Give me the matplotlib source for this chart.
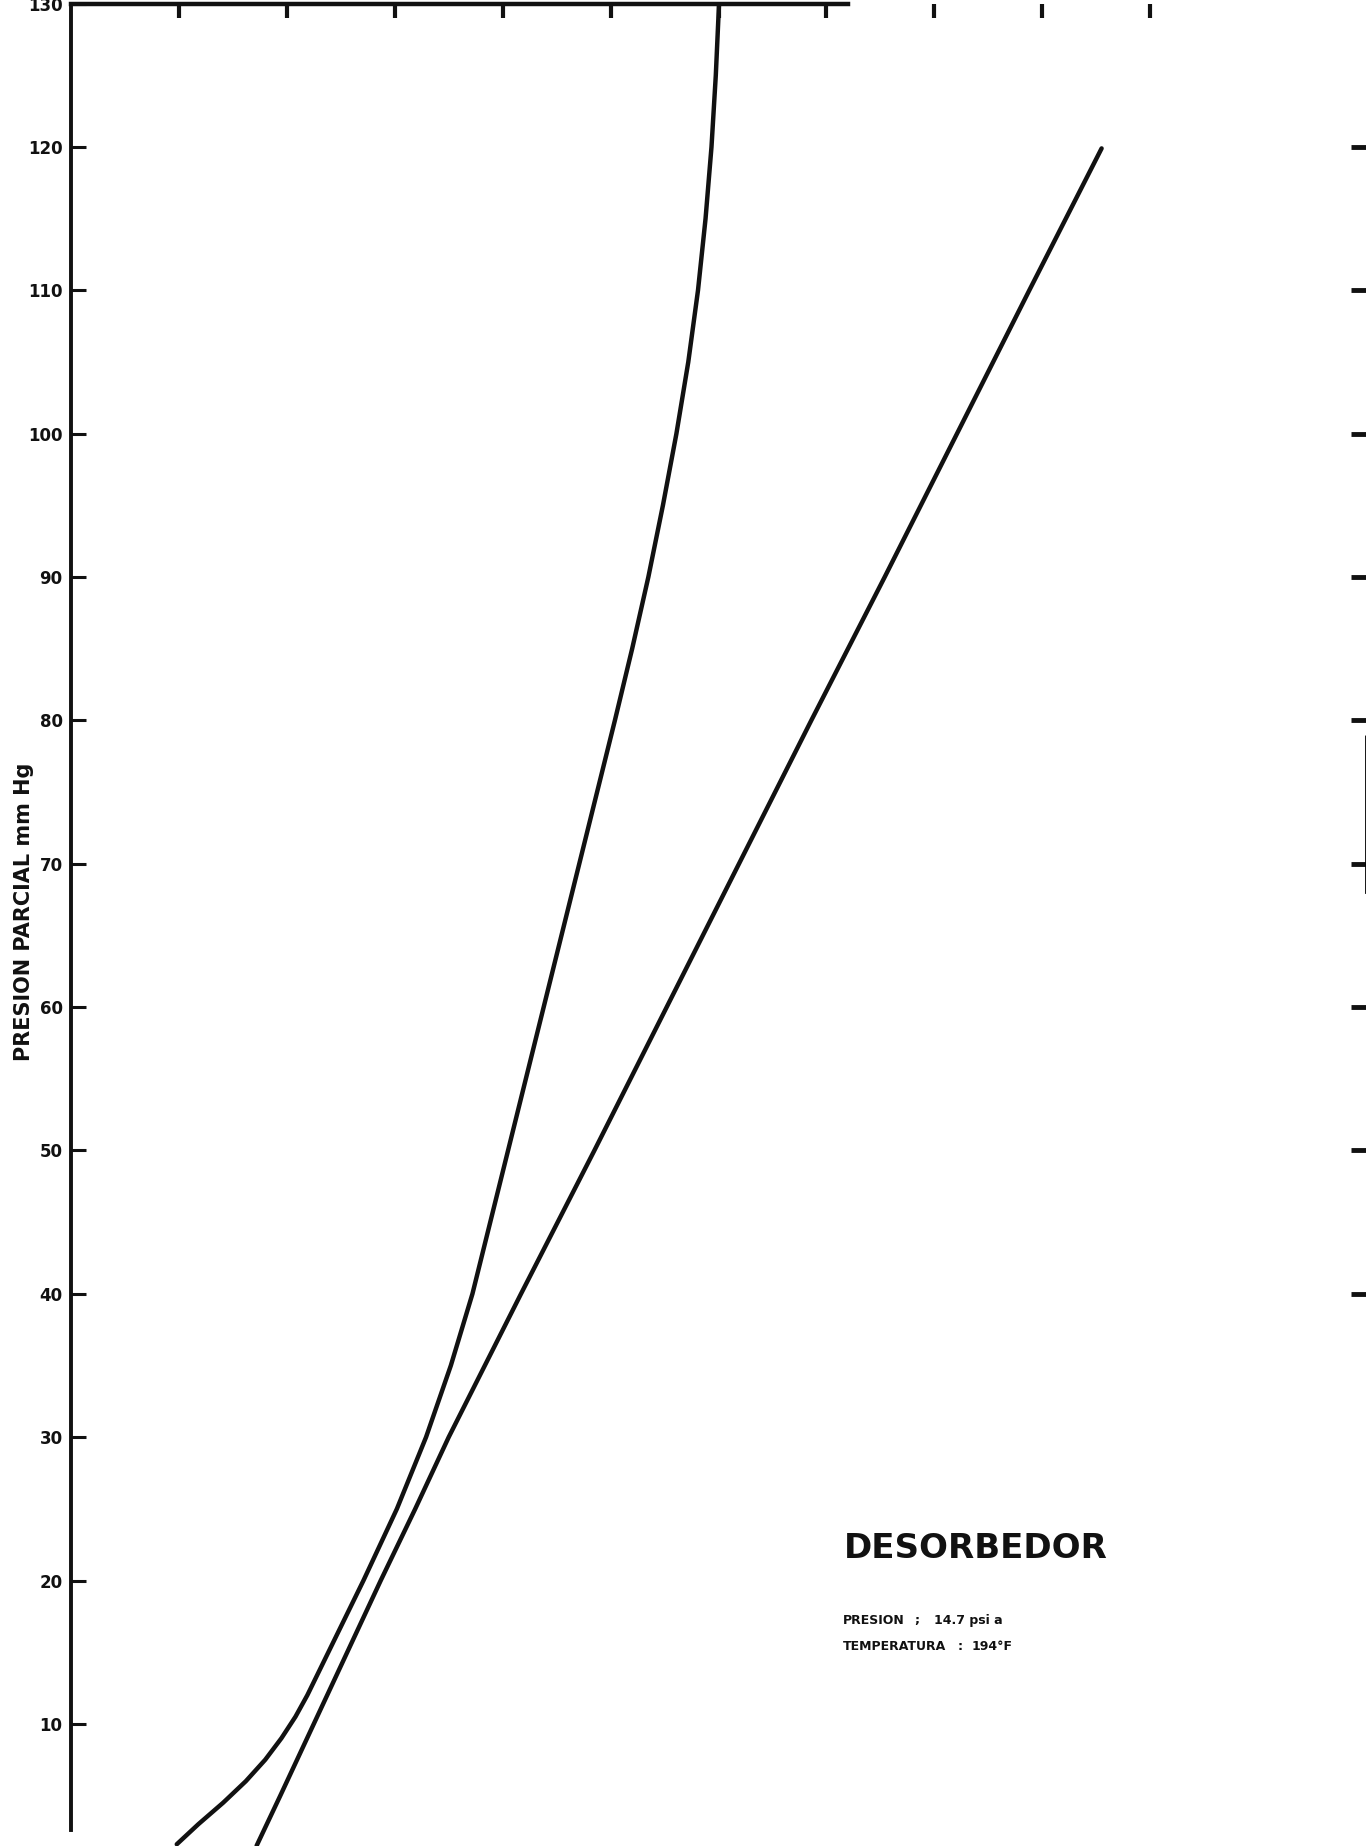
"""Desorbedor: presion parcial vs. carga (curvas de equilibrio / operacion)."""

import matplotlib
matplotlib.use("Agg")
import matplotlib.pyplot as plt

# --- data (x in top-axis tick units, y in mm Hg) ---
curve_a_x = [0.98, 1.18, 1.41, 1.62, 1.80, 1.95, 2.08, 2.19, 2.32, 2.45, 2.71,
             3.02, 3.29, 3.52, 3.72, 3.885, 4.05, 4.215, 4.38, 4.545, 4.71, 4.875,
             5.04, 5.20, 5.35, 5.485, 5.61, 5.72, 5.81, 5.88, 5.935, 5.975, 6.005]
curve_a_y = [1.6, 3.0, 4.5, 6.0, 7.5, 9.0, 10.5, 12.0, 14.0, 16.0, 20.0,
             25.0, 30.0, 35.0, 40.0, 45.0, 50.0, 55.0, 60.0, 65.0, 70.0, 75.0,
             80.0, 85.0, 90.0, 95.0, 100.0, 105.0, 110.0, 115.0, 120.0, 125.0, 130.0]

curve_b_x = [1.72, 1.94, 2.25, 2.56, 2.87, 3.19, 3.50, 4.17, 4.85, 5.52, 6.19,
             6.86, 7.54, 8.21, 8.88, 9.55]
curve_b_y = [1.5, 5.0, 10.0, 15.0, 20.0, 25.0, 30.0, 40.0, 50.0, 60.0, 70.0,
             80.0, 90.0, 100.0, 110.0, 119.9]

y_ticks = [10, 20, 30, 40, 50, 60, 70, 80, 90, 100, 110, 120, 130]
top_ticks = [1, 2, 3, 4, 5, 6, 7, 8, 9, 10]
right_ticks = [40, 50, 60, 70, 80, 90, 100, 110, 120]

title = "DESORBEDOR"
cond_labels = ["PRESION", "TEMPERATURA"]
cond_seps = [";", ":"]
cond_values = ["14.7 psi a", "194°F"]
ylabel = "PRESION PARCIAL mm Hg"

INK = "#111111"

fig = plt.figure(figsize=(13.66, 18.46), dpi=100)
ax = fig.add_axes([71 / 1366, 0.0, 1 - 71 / 1366, 1 - 3.6 / 1846])
ax.set_xlim(0, 12)
ax.set_ylim(1.48, 130)

ax.plot(curve_a_x, curve_a_y, color=INK, linewidth=3.2, solid_capstyle="round",
        solid_joinstyle="round")
ax.plot(curve_b_x, curve_b_y, color=INK, linewidth=3.2, solid_capstyle="round",
        solid_joinstyle="round")

# spines: left and (partial) top only, like the scan
for side in ("right", "bottom"):
    ax.spines[side].set_visible(False)
ax.spines["left"].set_linewidth(2.8)
ax.spines["left"].set_color(INK)
ax.spines["left"].set_bounds(2.6, 130)
ax.spines["top"].set_linewidth(3.2)
ax.spines["top"].set_color(INK)
ax.spines["top"].set_bounds(0, 7.2)

ax.set_xticks(top_ticks)
ax.tick_params(axis="x", bottom=False, top=True, labelbottom=False, labeltop=False,
               direction="in", length=10, width=3, color=INK)
ax.set_yticks(y_ticks)
ax.tick_params(axis="y", left=True, right=False, direction="in", length=11,
               width=2.2, color=INK, labelsize=12, pad=6, labelcolor=INK)
for lbl in ax.get_yticklabels():
    lbl.set_fontweight("bold")

# right-hand ticks (axis itself is cut off by the scan)
rax = ax.twinx()
rax.set_ylim(ax.get_ylim())
rax.set_yticks(right_ticks)
rax.tick_params(axis="y", right=True, direction="in", length=11, width=3.5,
                color=INK, labelright=False)
for side in ("left", "top", "bottom"):
    rax.spines[side].set_visible(False)
rax.spines["right"].set_bounds(68, 79)
rax.spines["right"].set_linestyle((0, (2, 1)))
rax.spines["right"].set_linewidth(2)

fig.text(24 / 1366, 1 - 912 / 1846, ylabel, rotation=90, ha="center", va="center",
         fontsize=15, fontweight="bold", color=INK)

# annotation block
fig.text(844 / 1366, 1 - 1558 / 1846, title, ha="left", va="baseline",
         fontsize=24.5, fontweight="bold", color=INK)
base_y = [1624, 1650]
sep_x = [914, 958]
val_x = [934, 972]
for i, (lab, sep, val) in enumerate(zip(cond_labels, cond_seps, cond_values)):
    yy = 1 - base_y[i] / 1846
    fig.text(843 / 1366, yy, lab, ha="left", va="baseline", fontsize=9,
             fontweight="bold", color=INK)
    fig.text(sep_x[i] / 1366, yy, sep, ha="left", va="baseline",
             fontsize=9, fontweight="bold", color=INK)
    fig.text(val_x[i] / 1366, yy, val, ha="left", va="baseline", fontsize=9,
             fontweight="bold", color=INK)

fig.savefig("out.png", dpi=100)
plt.close(fig)
